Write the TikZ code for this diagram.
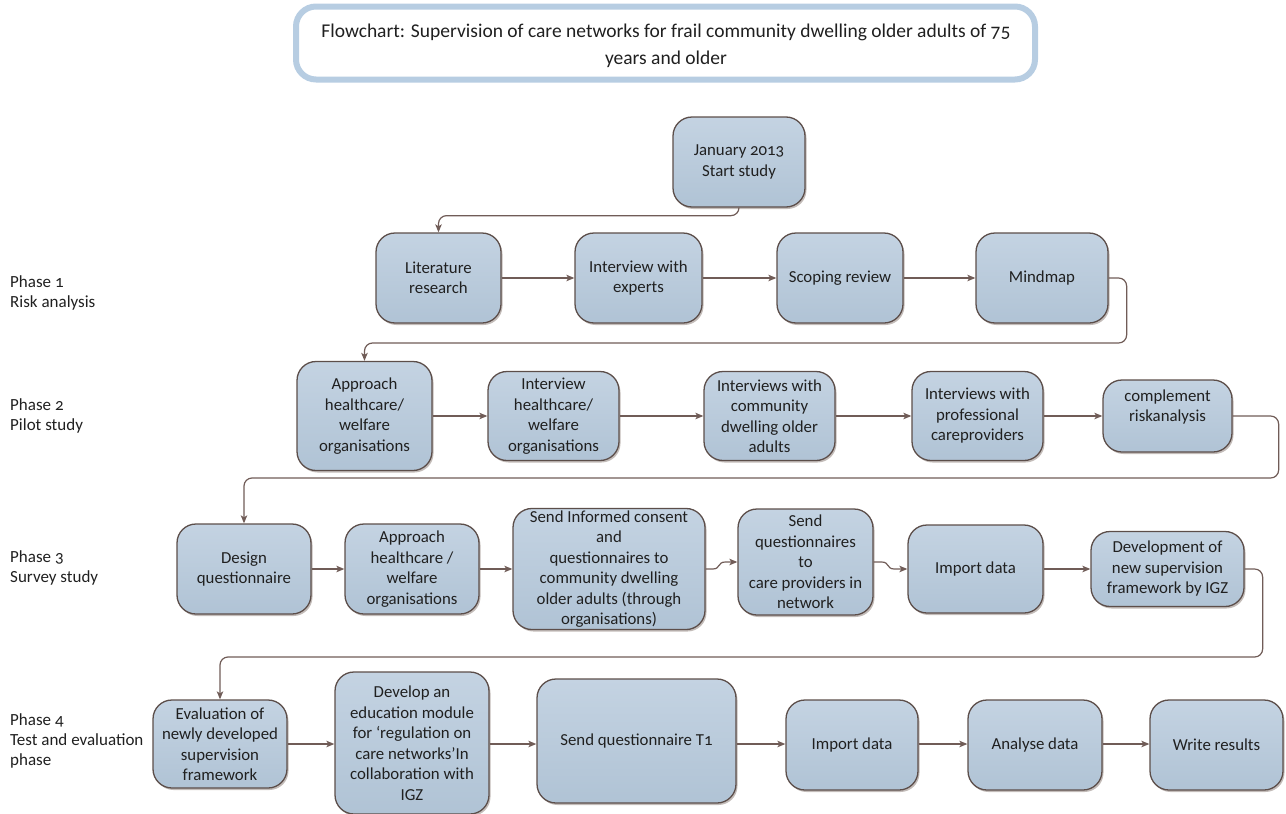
\documentclass[tikz,border=0pt]{standalone}
\usepackage{fontspec}
\setmainfont{Carlito}[Numbers=OldStyle]
\usetikzlibrary{arrows.meta,shadows,calc}
\definecolor{boxtop}{RGB}{196,211,226}
\definecolor{boxbot}{RGB}{176,195,213}
\definecolor{boxline}{RGB}{92,78,74}
\definecolor{connc}{RGB}{112,92,87}
\definecolor{titleline}{RGB}{183,205,226}
\definecolor{txt}{RGB}{32,32,32}
\definecolor{shadowc}{RGB}{170,160,155}
\tikzset{
  flowbox/.style={draw=boxline, line width=1.3pt, rounded corners=19pt,
    top color=boxtop, bottom color=boxbot, align=center, inner sep=2pt,
    text=txt, font=\fontsize{16.8}{20.5}\selectfont,
    drop shadow={shadow xshift=1.5pt,shadow yshift=-2pt,fill=shadowc,opacity=0.7}},
  conn/.style={draw=connc, line width=1.2pt,
    -{Stealth[length=8pt,width=6.5pt,inset=2pt]}, rounded corners=8pt},
  phaselbl/.style={anchor=west, align=left, text=txt, inner sep=0pt,
    font=\fontsize{17}{20}\selectfont},
  titlebox/.style={draw=titleline, line width=6pt, rounded corners=20pt,
    fill=white},
  titletext/.style={align=center, text=txt, inner sep=0pt,
    font=\fontsize{19.5}{27}\selectfont}
}
\begin{document}
\begin{tikzpicture}[x=1pt,y=-1pt]
\useasboundingbox (0,0) rectangle (1286,814);

% title
\node[titlebox, minimum width=739, minimum height=73] (title) at (665.5,43) {};
\node[titletext] (titletxt) at (666,46)
  {Flowchart: Supervision of care networks for frail community dwelling older adults of 75\\years and older};

% phase labels
\node[phaselbl] (ph1) at (10,293) {Phase 1\\Risk analysis};
\node[phaselbl] (ph2) at (10,416) {Phase 2\\Pilot study};
\node[phaselbl] (ph3) at (10,568) {Phase 3\\Survey study};
\node[phaselbl] (ph4) at (10,741) {Phase 4\\Test and evaluation\\phase};

% start
\node[flowbox, minimum width=132, minimum height=90] (start) at (739,162) {January 2013\\Start study};

% row 1
\node[flowbox, minimum width=125, minimum height=90] (lit) at (438.5,278) {Literature\\research};
\node[flowbox, minimum width=127, minimum height=90] (exp) at (638.5,278) {Interview with\\experts};
\node[flowbox, minimum width=126, minimum height=90] (scop) at (840,278) {Scoping review};
\node[flowbox, minimum width=132, minimum height=90] (mind) at (1042,278) {Mindmap};

% row 2
\node[flowbox, minimum width=135, minimum height=109] (appr1) at (364.5,416) {Approach\\healthcare/\\welfare\\organisations};
\node[flowbox, minimum width=131, minimum height=89] (intv) at (553.5,416) {Interview\\healthcare/\\welfare\\organisations};
\node[flowbox, minimum width=131, minimum height=89] (comm) at (769.5,416) {Interviews with\\community\\dwelling older\\adults};
\node[flowbox, minimum width=131, minimum height=89] (prof) at (977.5,416) {Interviews with\\professional\\careproviders};
\node[flowbox, minimum width=129, minimum height=72] (compl) at (1167.5,416) {complement\\riskanalysis\\\mbox{}};

% row 3
\node[flowbox, minimum width=134, minimum height=90] (design) at (244,569) {Design\\questionnaire};
\node[flowbox, minimum width=134, minimum height=90] (appr2) at (412,569) {Approach\\healthcare /\\welfare\\organisations};
\node[flowbox, minimum width=192, minimum height=120] (sendinf) at (609,569) {Send Informed consent\\and\\questionnaires to\\community dwelling\\older adults (through\\organisations)};
\node[flowbox, minimum width=135, minimum height=106] (sendq) at (805.5,562) {Send\\questionnaires\\to\\care providers in\\network};
\node[flowbox, minimum width=135, minimum height=88] (imp2) at (975.5,569) {Import data};
\node[flowbox, minimum width=153, minimum height=75] (dev) at (1167.5,569) {Development of\\new supervision\\framework by IGZ};

% row 4
\node[flowbox, minimum width=134, minimum height=88] (eval) at (220,744) {Evaluation of\\newly developed\\supervision\\framework};
\node[flowbox, minimum width=154, minimum height=142] (edu) at (412,743) {Develop an\\education module\\for ‘regulation on\\care networks’In\\collaboration with\\IGZ};
\node[flowbox, minimum width=199, minimum height=124] (sendt) at (636.5,741) {Send questionnaire T1};
\node[flowbox, minimum width=132, minimum height=90] (imp4) at (852,745) {Import data};
\node[flowbox, minimum width=134, minimum height=90] (anal) at (1035,745) {Analyse data};
\node[flowbox, minimum width=133, minimum height=90] (write) at (1216.5,745) {Write results};

% connectors
\draw[conn] (start.south) -- ++(0,8) -| (lit.north);
\draw[conn] (lit.east) -- (exp.west);
\draw[conn] (exp.east) -- (scop.west);
\draw[conn] (scop.east) -- (mind.west);
\draw[conn] (mind.east) -- ++(18,0) -- ++(0,65) -| (appr1.north);

\draw[conn] (appr1.east) -- (intv.west);
\draw[conn] (intv.east) -- (comm.west);
\draw[conn] (comm.east) -- (prof.west);
\draw[conn] (prof.east) -- (compl.west);
\draw[conn] (compl.east) -- ++(46,0) -- ++(0,62) -| (design.north);

\draw[conn] (design.east) -- (appr2.west);
\draw[conn] (appr2.east) -- (sendinf.west);
\draw[conn, sharp corners] (sendinf.east) -- ++(7,0) .. controls +(8,0) and +(-8,0) .. ($(sendq.west)+(-12,0)$) -- (sendq.west);
\draw[conn, sharp corners] (sendq.east) -- ++(8,0) .. controls +(8,0) and +(-8,0) .. ($(imp2.west)+(-13,0)$) -- (imp2.west);
\draw[conn] (imp2.east) -- (dev.west);
\draw[conn] (dev.east) -- ++(18,0) -- ++(0,88) -| (eval.north);

\draw[conn] (eval.east) -- (eval.east -| edu.west);
\draw[conn] (edu.east |- eval.east) -- (eval.east -| sendt.west);
\draw[conn] (sendt.east |- eval.east) -- (eval.east -| imp4.west);
\draw[conn] (imp4.east |- eval.east) -- (eval.east -| anal.west);
\draw[conn] (anal.east |- eval.east) -- (eval.east -| write.west);
\end{tikzpicture}
\end{document}
